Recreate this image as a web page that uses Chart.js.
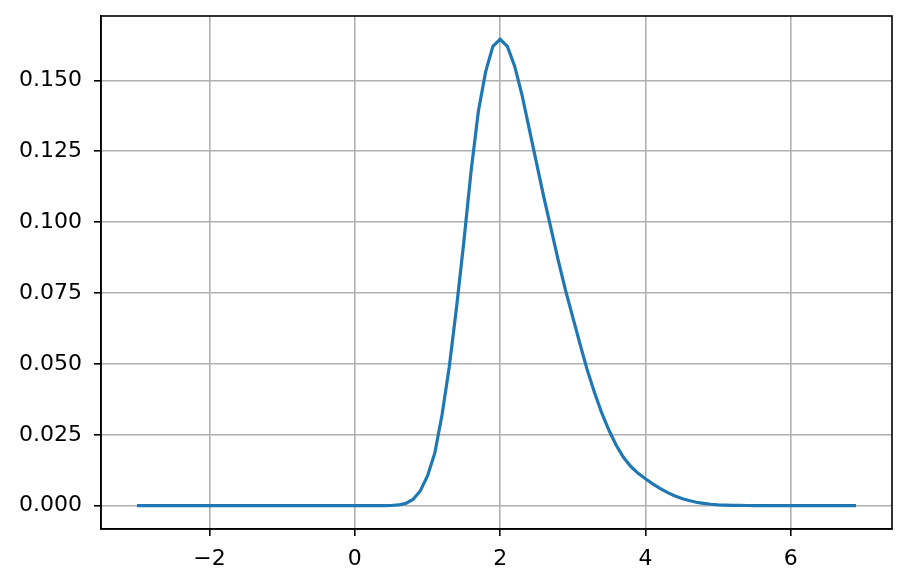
<!DOCTYPE html>
<html>
<head>
<meta charset="utf-8">
<script src="https://cdn.jsdelivr.net/npm/chart.js@4"></script>
<style>
  html, body { margin: 0; padding: 0; background: #fff; }
  canvas { display: block; }
</style>
</head>
<body>
<canvas id="c" width="908" height="586"></canvas>
<script>
// sample positions along x
var xs = [
  -3.0, -2.9, -2.8, -2.7, -2.6, -2.5, -2.4, -2.3, -2.2, -2.1,
  -2.0, -1.9, -1.8, -1.7, -1.6, -1.5, -1.4, -1.3, -1.2, -1.1,
  -1.0, -0.9, -0.8, -0.7, -0.6, -0.5, -0.4, -0.3, -0.2, -0.1,
   0.0,  0.1,  0.2,  0.3,  0.4,  0.5,  0.6,  0.7,  0.8,  0.9,
   1.0,  1.1,  1.2,  1.3,  1.4,  1.5,  1.6,  1.7,  1.8,  1.9,
   2.0,  2.1,  2.2,  2.3,  2.4,  2.5,  2.6,  2.7,  2.8,  2.9,
   3.0,  3.1,  3.2,  3.3,  3.4,  3.5,  3.6,  3.7,  3.8,  3.9,
   4.0,  4.1,  4.2,  4.3,  4.4,  4.5,  4.6,  4.7,  4.8,  4.9,
   5.0,  5.1,  5.2,  5.3,  5.4,  5.5,  5.6,  5.7,  5.8,  5.9,
   6.0,  6.1,  6.2,  6.3,  6.4,  6.5,  6.6,  6.7,  6.8,  6.9
];

// curve values
var ys = [
  0, 0, 0, 0, 0, 0, 0, 0, 0, 0,
  0, 0, 0, 0, 0, 0, 0, 0, 0, 0,
  0, 0, 0, 0, 0, 0, 0, 0, 0, 0,
  0, 0, 0, 0, 0.00001, 0.00006, 0.00025, 0.0008, 0.0022, 0.0052,
  0.0105, 0.0185, 0.032, 0.049, 0.070, 0.093, 0.118, 0.139, 0.153, 0.162,
  0.1645, 0.162, 0.155, 0.145, 0.133, 0.121, 0.109, 0.0978, 0.0865, 0.076,
  0.0665, 0.057, 0.0478, 0.0398, 0.0326, 0.0265, 0.0212, 0.0170, 0.0138, 0.0114,
  0.0095, 0.0077, 0.0061, 0.0047, 0.0035, 0.0025, 0.0018, 0.0012, 0.0008, 0.0005,
  0.0003, 0.0002, 0.00013, 0.00008, 0.00005, 0.00003, 0.00002, 0.00001, 0, 0,
  0, 0, 0, 0, 0, 0, 0, 0, 0, 0
];

var xTicks = [-2, 0, 2, 4, 6];
var yTicks = [0, 0.025, 0.05, 0.075, 0.1, 0.125, 0.15];

var points = xs.map(function(x, i) { return { x: x, y: ys[i] }; });

function minusSign(v) {
  return v < 0 ? '\u2212' + Math.abs(v) : String(v);
}

// matplotlib-style full frame around the plot area
var frame = {
  id: 'frame',
  afterDraw: function(chart) {
    var a = chart.chartArea, ctx = chart.ctx;
    ctx.save();
    ctx.strokeStyle = '#000';
    ctx.lineWidth = 1.6;
    ctx.strokeRect(a.left, a.top, a.right - a.left, a.bottom - a.top);
    ctx.restore();
  }
};

Chart.defaults.font.family = '"DejaVu Sans", sans-serif';
Chart.defaults.font.size = 22;
Chart.defaults.color = '#000';

new Chart(document.getElementById('c'), {
  type: 'line',
  data: {
    datasets: [{
      data: points,
      borderColor: '#1f77b4',
      borderWidth: 3.2,
      pointRadius: 0,
      tension: 0,
      fill: false
    }]
  },
  options: {
    responsive: false,
    animation: false,
    devicePixelRatio: 1,
    layout: { padding: { top: 16, right: 16, left: 0, bottom: 0 } },
    plugins: { legend: { display: false }, tooltip: { enabled: false } },
    scales: {
      x: {
        type: 'linear',
        min: -3.495,
        max: 7.395,
        afterBuildTicks: function(axis) {
          axis.ticks = xTicks.map(function(v) { return { value: v }; });
        },
        afterFit: function(axis) {
          axis.height = 57;
          axis.paddingLeft = 0;
          axis.paddingRight = 0;
        },
        ticks: {
          padding: 10,
          maxRotation: 0,
          callback: function(v) { return minusSign(v); }
        },
        grid: {
          color: '#b0b0b0',
          lineWidth: 1.6,
          tickColor: '#000',
          tickLength: 7
        },
        border: { color: '#000', width: 1.6 }
      },
      y: {
        min: -0.00823,
        max: 0.1727,
        afterBuildTicks: function(axis) {
          axis.ticks = yTicks.map(function(v) { return { value: v }; });
        },
        afterFit: function(axis) {
          axis.width = 101;
          axis.paddingTop = 0;
          axis.paddingBottom = 0;
        },
        ticks: {
          padding: 12,
          callback: function(v) { return v.toFixed(3); }
        },
        grid: {
          color: '#b0b0b0',
          lineWidth: 1.6,
          tickColor: '#000',
          tickLength: 7
        },
        border: { color: '#000', width: 1.6 }
      }
    }
  },
  plugins: [frame]
});
</script>
</body>
</html>
